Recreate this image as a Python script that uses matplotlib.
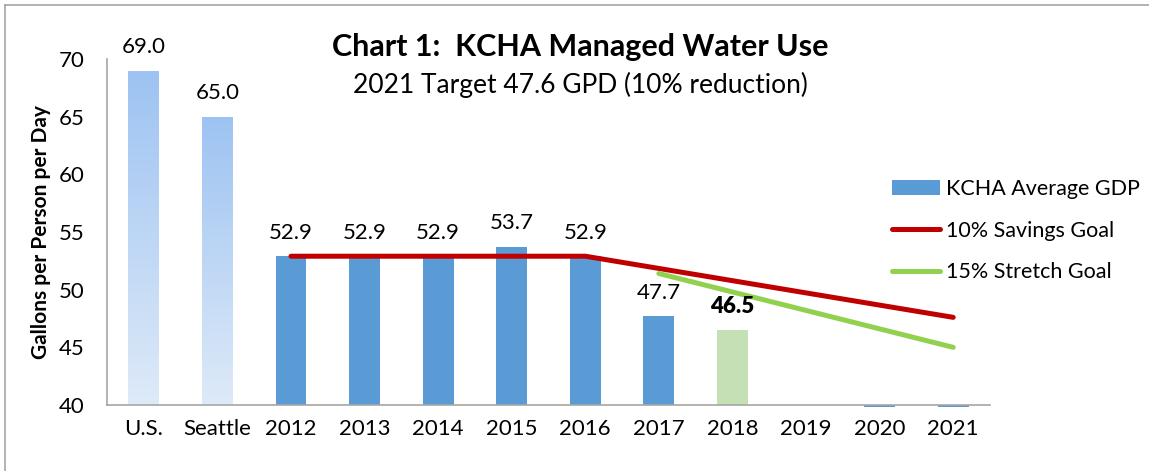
import matplotlib
matplotlib.use("Agg")
import matplotlib.pyplot as plt
import numpy as np
from matplotlib.patches import Patch
from matplotlib.lines import Line2D
from matplotlib.colors import LinearSegmentedColormap

plt.rcParams['font.family'] = ['Lato', 'DejaVu Sans']

categories = ["U.S.", "Seattle", "2012", "2013", "2014", "2015", "2016",
              "2017", "2018", "2019", "2020", "2021"]
usage = [69.0, 65.0, 52.9, 52.9, 52.9, 53.7, 52.9, 47.7, 46.5, None, 39.8, 39.8]
labels = ["69.0", "65.0", "52.9", "52.9", "52.9", "53.7", "52.9", "47.7", "46.5", "", "", ""]
savings_goal = [None, None, 52.9, 52.9, 52.9, 52.9, 52.9, 51.84, 50.78, 49.72, 48.66, 47.6]
stretch_goal = [None, None, None, None, None, None, None, 51.4, 49.8, 48.2, 46.6, 45.0]

BLUE = "#5B9BD5"
GREEN_BAR = "#C5E0B4"
RED = "#C00000"
GREEN = "#92D050"

fig = plt.figure(figsize=(11.49, 4.71), dpi=100)
ax = fig.add_axes([107/1149, 66/471, 883/1149, 346/471])

x = np.arange(len(categories))
w = 0.42
ymin, ymax = 40, 70
cmap = LinearSegmentedColormap.from_list("g", ["#DEEAF8", "#9DC3F2"])
for i, v in enumerate(usage):
    if v is None:
        continue
    if i < 2:
        b = ax.bar(x[i], v - ymin, bottom=ymin, width=w, color="none", edgecolor="none")[0]
        grad = np.linspace(0, 1, 256).reshape(-1, 1)
        im = ax.imshow(grad, cmap=cmap, origin="lower", aspect="auto",
                       extent=[x[i] - w/2, x[i] + w/2, ymin, v], zorder=1)
        im.set_clip_path(b)
    else:
        color = GREEN_BAR if categories[i] == "2018" else BLUE
        ax.bar(x[i], v - ymin, bottom=ymin, width=w, color=color, clip_on=False, zorder=1)
    if labels[i]:
        ax.annotate(labels[i], (x[i], v), xytext=(0, 17), textcoords="offset points",
                    ha="center", va="center", fontsize=16, zorder=5,
                    fontweight="heavy" if categories[i] == "2018" else "normal")

sx = [xi for xi, s in zip(x, savings_goal) if s is not None]
sy = [s for s in savings_goal if s is not None]
ax.plot(sx, sy, color=RED, lw=3.6, solid_capstyle="round", zorder=3)
gx = [xi for xi, s in zip(x, stretch_goal) if s is not None]
gy = [s for s in stretch_goal if s is not None]
ax.plot(gx, gy, color=GREEN, lw=3.6, solid_capstyle="round", zorder=3)

ax.set_xlim(-0.5, len(categories) - 0.5)
ax.set_ylim(ymin, ymax)
ax.set_xticks(x)
ax.set_xticklabels(categories, fontsize=16)
ax.set_yticks(range(40, 71, 5))
ax.tick_params(axis="both", length=0, labelsize=16)
ax.tick_params(axis="x", pad=10)
ax.tick_params(axis="y", pad=16)
for s in ["top", "right"]:
    ax.spines[s].set_visible(False)
for s in ["left", "bottom"]:
    ax.spines[s].set_color("#A6A6A6")
    ax.spines[s].set_linewidth(1.2)
ax.set_ylabel("Gallons per Person per Day", fontsize=15, fontweight="bold", labelpad=6)

fig.text(580/1149, 1 - 47/471, "Chart 1:  KCHA Managed Water Use", ha="center", va="center",
         fontsize=22, fontweight="bold")
fig.text(580/1149, 1 - 85/471, "2021 Target 47.6 GPD (10% reduction)", ha="center", va="center",
         fontsize=19)

handles = [Patch(facecolor=BLUE, edgecolor="none"),
           Line2D([0], [0], color=RED, lw=3.6, solid_capstyle="round"),
           Line2D([0], [0], color=GREEN, lw=3.6, solid_capstyle="round")]
fig.legend(handles, ["KCHA Average GDP", "10% Savings Goal", "15% Stretch Goal"],
           loc="upper left", bbox_to_anchor=(873/1149, 1 - 160/471), frameon=False,
           fontsize=15.5, labelspacing=1.0, handlelength=2.2, handletextpad=0.3,
           handleheight=0.7)

# outer border (left and top)
fig.add_artist(Line2D([5/1149, 5/1149], [0, 1 - 5/471], color="#A6A6A6", lw=1.2,
                      transform=fig.transFigure))
fig.add_artist(Line2D([5/1149, 1], [1 - 5/471, 1 - 5/471], color="#A6A6A6", lw=1.2,
                      transform=fig.transFigure))

fig.savefig("out.png", dpi=100)
